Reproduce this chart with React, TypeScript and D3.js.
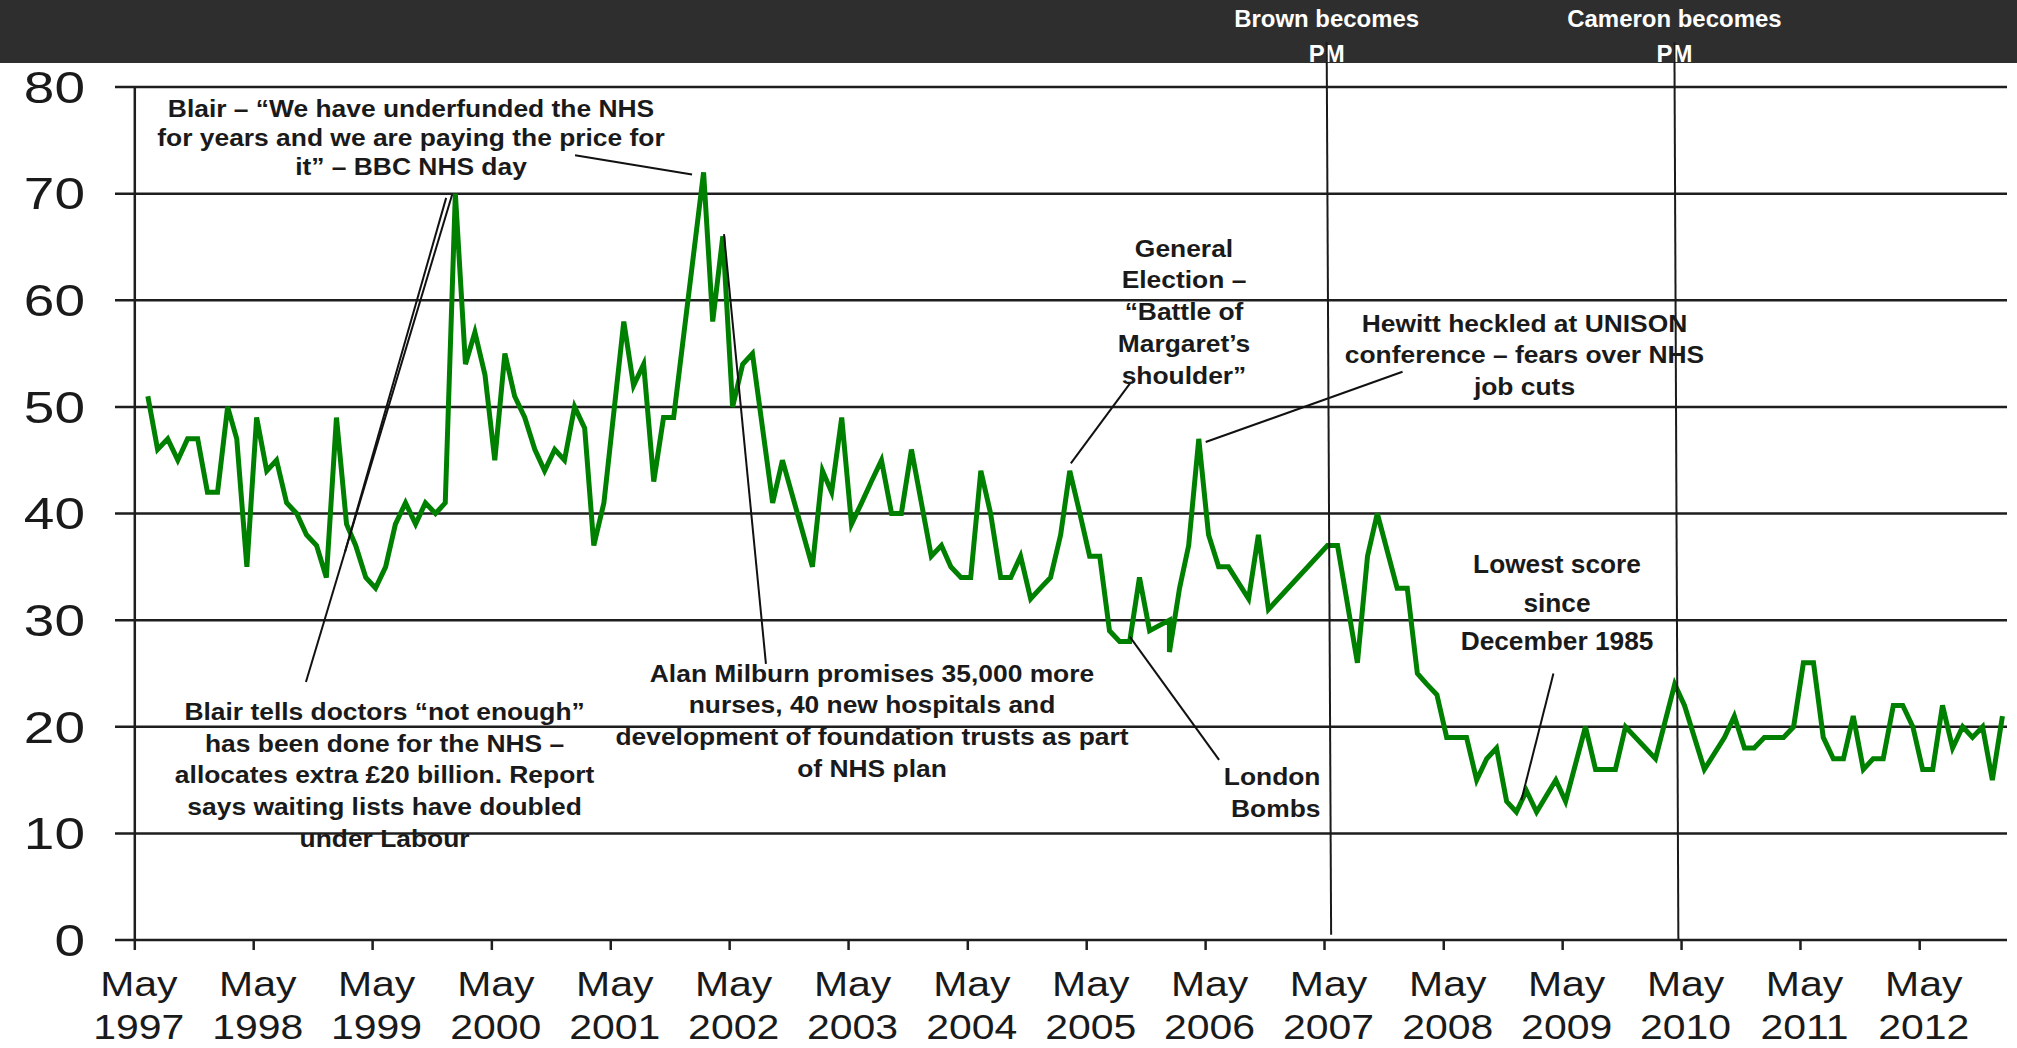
import React from "react";
import * as d3 from "d3";

// Ipsos MORI style issues index: % naming the NHS as an important issue
const surveyMonths = [
  "1997-06", "1997-07", "1997-08", "1997-09", "1997-10", "1997-11", "1997-12",
  "1998-01", "1998-02", "1998-03", "1998-04", "1998-05", "1998-06", "1998-07", "1998-08", "1998-09", "1998-10", "1998-11", "1998-12",
  "1999-01", "1999-02", "1999-03", "1999-04", "1999-05", "1999-06", "1999-07", "1999-08", "1999-09", "1999-10", "1999-11", "1999-12",
  "2000-01", "2000-02", "2000-03", "2000-04", "2000-05", "2000-06", "2000-07", "2000-08", "2000-09", "2000-10", "2000-11", "2000-12",
  "2001-01", "2001-02", "2001-03", "2001-04", "2001-06", "2001-07", "2001-08", "2001-09", "2001-10", "2001-11",
  "2002-02", "2002-03", "2002-04", "2002-05", "2002-06", "2002-07", "2002-09", "2002-10",
  "2003-01", "2003-02", "2003-03", "2003-04", "2003-05", "2003-06", "2003-07", "2003-08", "2003-09", "2003-10", "2003-11",
  "2004-01", "2004-02", "2004-03", "2004-04", "2004-05", "2004-06", "2004-07", "2004-08", "2004-09", "2004-10", "2004-11", "2004-12",
  "2005-01", "2005-02", "2005-03", "2005-04", "2005-05", "2005-06", "2005-07", "2005-08", "2005-09", "2005-10", "2005-11",
  "2006-01", "2006-01", "2006-02", "2006-03", "2006-04", "2006-05", "2006-06", "2006-07", "2006-09", "2006-10", "2006-11", "2006-12",
  "2007-05", "2007-06", "2007-08", "2007-09", "2007-10", "2007-12",
  "2008-01", "2008-02", "2008-03", "2008-04", "2008-05", "2008-07", "2008-08", "2008-09", "2008-10", "2008-11", "2008-12",
  "2009-01", "2009-02", "2009-04", "2009-05", "2009-07", "2009-08", "2009-10", "2009-11",
  "2010-02", "2010-04", "2010-05", "2010-07", "2010-09", "2010-10", "2010-11", "2010-12",
  "2011-01", "2011-03", "2011-04", "2011-05", "2011-06", "2011-07", "2011-08", "2011-09", "2011-10", "2011-11", "2011-12",
  "2012-01", "2012-02", "2012-03", "2012-04", "2012-05", "2012-06", "2012-07", "2012-08", "2012-09", "2012-10", "2012-11", "2012-12",
  "2013-01",
];

const nhsScores = [
  51, 46, 47, 45, 47, 47, 42,
  42, 50, 47, 35, 49, 44, 45, 41, 40, 38, 37, 34,
  49, 39, 37, 34, 33, 35, 39, 41, 39, 41, 40, 41,
  70, 54, 57, 53, 45, 55, 51, 49, 46, 44, 46, 45,
  50, 48, 37, 41, 58, 52, 54, 43, 49, 49,
  72, 58, 66, 50, 54, 55, 41, 45,
  35, 44, 42, 49, 39, 41, 43, 45, 40, 40, 46,
  36, 37, 35, 34, 34, 44, 40, 34, 34, 36, 32, 33,
  34, 38, 44, 40, 36, 36, 29, 28, 28, 34, 29,
  30, 27, 33, 37, 47, 38, 35, 35, 32, 38, 31, 32,
  37, 37, 26, 36, 40, 33,
  33, 25, 24, 23, 19, 19, 15, 17, 18, 13, 12,
  14, 12, 15, 13, 20, 16, 16, 20,
  17, 24, 22, 16, 19, 21, 18, 18,
  19, 19, 20, 26, 26, 19, 17, 17, 21, 16, 17,
  17, 22, 22, 20, 16, 16, 22, 18, 20, 19, 20, 15,
  21,
];

const yTicks = [0, 10, 20, 30, 40, 50, 60, 70, 80];
const tickYears = [1997, 1998, 1999, 2000, 2001, 2002, 2003, 2004, 2005, 2006, 2007, 2008, 2009, 2010, 2011, 2012];

// leaders are [months since May 1997, score]
const annotations = [
  {
    lines: ["Blair – “We have underfunded the NHS", "for years and we are paying the price for", "it” – BBC NHS day"],
    cx: 411, base: 116.7, gap: 29, anchor: "middle",
    leaders: [[[44.4, 73.6], [56.2, 71.8]]],
  },
  {
    lines: ["Blair tells doctors “not enough”", "has been done for the NHS –", "allocates extra £20 billion. Report", "says waiting lists have doubled", "under Labour"],
    cx: 384.6, base: 720, gap: 31.7, anchor: "middle",
    leaders: [[[32.0, 69.9], [17.26, 24.2]], [[31.4, 69.6], [21.2, 36.4]]],
  },
  {
    lines: ["Alan Milburn promises 35,000 more", "nurses, 40 new hospitals and", "development of foundation trusts as part", "of NHS plan"],
    cx: 872, base: 681.7, gap: 31.7, anchor: "middle",
    leaders: [[[59.42, 66.2], [63.65, 25.9]]],
  },
  {
    lines: ["General", "Election –", "“Battle of", "Margaret’s", "shoulder”"],
    cx: 1184, base: 256.7, gap: 31.7, anchor: "middle",
    leaders: [[[100.37, 52.2], [94.4, 44.7]]],
  },
  {
    lines: ["Hewitt heckled at UNISON", "conference – fears over NHS", "job cuts"],
    cx: 1524.5, base: 331.7, gap: 31.7, anchor: "middle",
    leaders: [[[127.85, 53.3], [108.0, 46.7]]],
  },
  {
    lines: ["London", "Bombs"],
    cx: 1320.5, base: 785, gap: 31.7, anchor: "end",
    leaders: [[[100.34, 28.45], [109.35, 16.9]]],
  },
];

const lowestNote = {
  lines: ["Lowest score", "since", "December 1985"],
  cx: 1557, base: 573.3, gap: 38.3,
  leader: [[143.07, 25.0], [139.83, 13.1]],
};

const pmChanges = [
  { label: "Brown becomes", top: [120.2, 84.2], bottom: [120.65, 0.5] },
  { label: "Cameron becomes", top: [155.27, 84.2], bottom: [155.67, 0] },
];

const FONT = "'Liberation Sans', Arial, Helvetica, sans-serif";

export default function App() {
  const width = 2017;
  const height = 1048;
  const gridLeft = 115;
  const gridRight = 2007;

  const start = new Date(1997, 4, 1);
  const x = d3.scaleTime().domain([start, new Date(2012, 4, 1)]).range([134.8, 1919.7]);
  const y = d3.scaleLinear().domain([0, 80]).range([940, 87]);
  const atMonth = (m: number) => x(new Date(start.getTime() + m * 30.4375 * 864e5));

  const parse = d3.timeParse("%Y-%m");
  const points = surveyMonths.map((s, i) => ({
    date: d3.timeDay.offset(parse(s) as Date, 9),
    value: nhsScores[i],
  }));

  const line = d3
    .line<{ date: Date; value: number }>()
    .x((d) => x(d.date))
    .y((d) => y(d.value));

  const lp = (p: number[]) => [atMonth(p[0]), y(p[1])];

  return (
    <svg
      width={width}
      height={height}
      style={{ position: "absolute", left: 0, top: 0, display: "block", background: "#fff" }}
      fontFamily={FONT}
    >
      <rect x={0} y={0} width={width} height={63} fill="#2e2e2e" />

      {/* gridlines */}
      {yTicks.map((t) => (
        <line key={t} x1={gridLeft} x2={gridRight} y1={y(t)} y2={y(t)} stroke="#1e1e1e" strokeWidth={2.5} />
      ))}
      <line x1={x(start)} x2={x(start)} y1={y(80)} y2={y(0)} stroke="#1e1e1e" strokeWidth={2.5} />

      {/* y labels */}
      {yTicks.map((t) => (
        <text
          key={t}
          transform={`translate(85,${y(t) + 15.8}) scale(1.25,1)`}
          textAnchor="end"
          fontSize={44}
          fill="#1a1a1a"
        >
          {t}
        </text>
      ))}

      {/* x ticks and labels */}
      {tickYears.map((yr) => {
        const tx = x(new Date(yr, 4, 1));
        return (
          <g key={yr}>
            <line x1={tx} x2={tx} y1={y(0)} y2={y(0) + 10} stroke="#1e1e1e" strokeWidth={2.5} />
            <text transform={`translate(${tx + 4},996) scale(1.17,1)`} textAnchor="middle" fontSize={35} fill="#1a1a1a">
              May
            </text>
            <text transform={`translate(${tx + 4},1039) scale(1.17,1)`} textAnchor="middle" fontSize={35} fill="#1a1a1a">
              {yr}
            </text>
          </g>
        );
      })}

      {/* series */}
      <path d={line(points) ?? ""} fill="none" stroke="#008000" strokeWidth={5} />

      {/* annotations */}
      {annotations.map((a, i) => (
        <g key={i}>
          {a.leaders.map((l, j) => {
            const [x1, y1] = lp(l[0]);
            const [x2, y2] = lp(l[1]);
            return <line key={j} x1={x1} y1={y1} x2={x2} y2={y2} stroke="#111" strokeWidth={2} />;
          })}
          {a.lines.map((t, j) => (
            <text
              key={j}
              transform={`translate(${a.cx},${a.base + j * a.gap}) scale(1.1,1)`}
              textAnchor={a.anchor as any}
              fontSize={24}
              fontWeight="bold"
              fill="#1a1a1a"
            >
              {t}
            </text>
          ))}
        </g>
      ))}

      <g>
        {(() => {
          const [x1, y1] = lp(lowestNote.leader[0]);
          const [x2, y2] = lp(lowestNote.leader[1]);
          return <line x1={x1} y1={y1} x2={x2} y2={y2} stroke="#111" strokeWidth={2} />;
        })()}
        {lowestNote.lines.map((t, j) => (
          <text
            key={j}
            transform={`translate(${lowestNote.cx},${lowestNote.base + j * lowestNote.gap}) scale(1.03,1)`}
            textAnchor="middle"
            fontSize={25.5}
            fontWeight="bold"
            fill="#1a1a1a"
          >
            {t}
          </text>
        ))}
      </g>

      {/* PM changes */}
      {pmChanges.map((p) => {
        const [x1, y1] = lp(p.top);
        const [x2, y2] = lp(p.bottom);
        return (
          <g key={p.label}>
            <text transform={`translate(${x1},27.3) scale(1.02,1)`} textAnchor="middle" fontSize={23.5} fontWeight="bold" fill="#fff">
              {p.label}
            </text>
            <text transform={`translate(${x1},61.5) scale(1.02,1)`} textAnchor="middle" fontSize={23.5} fontWeight="bold" fill="#fff">
              PM
            </text>
            <line x1={x1} y1={y1} x2={x2} y2={y2} stroke="#1a1a1a" strokeWidth={2} />
          </g>
        );
      })}
    </svg>
  );
}
